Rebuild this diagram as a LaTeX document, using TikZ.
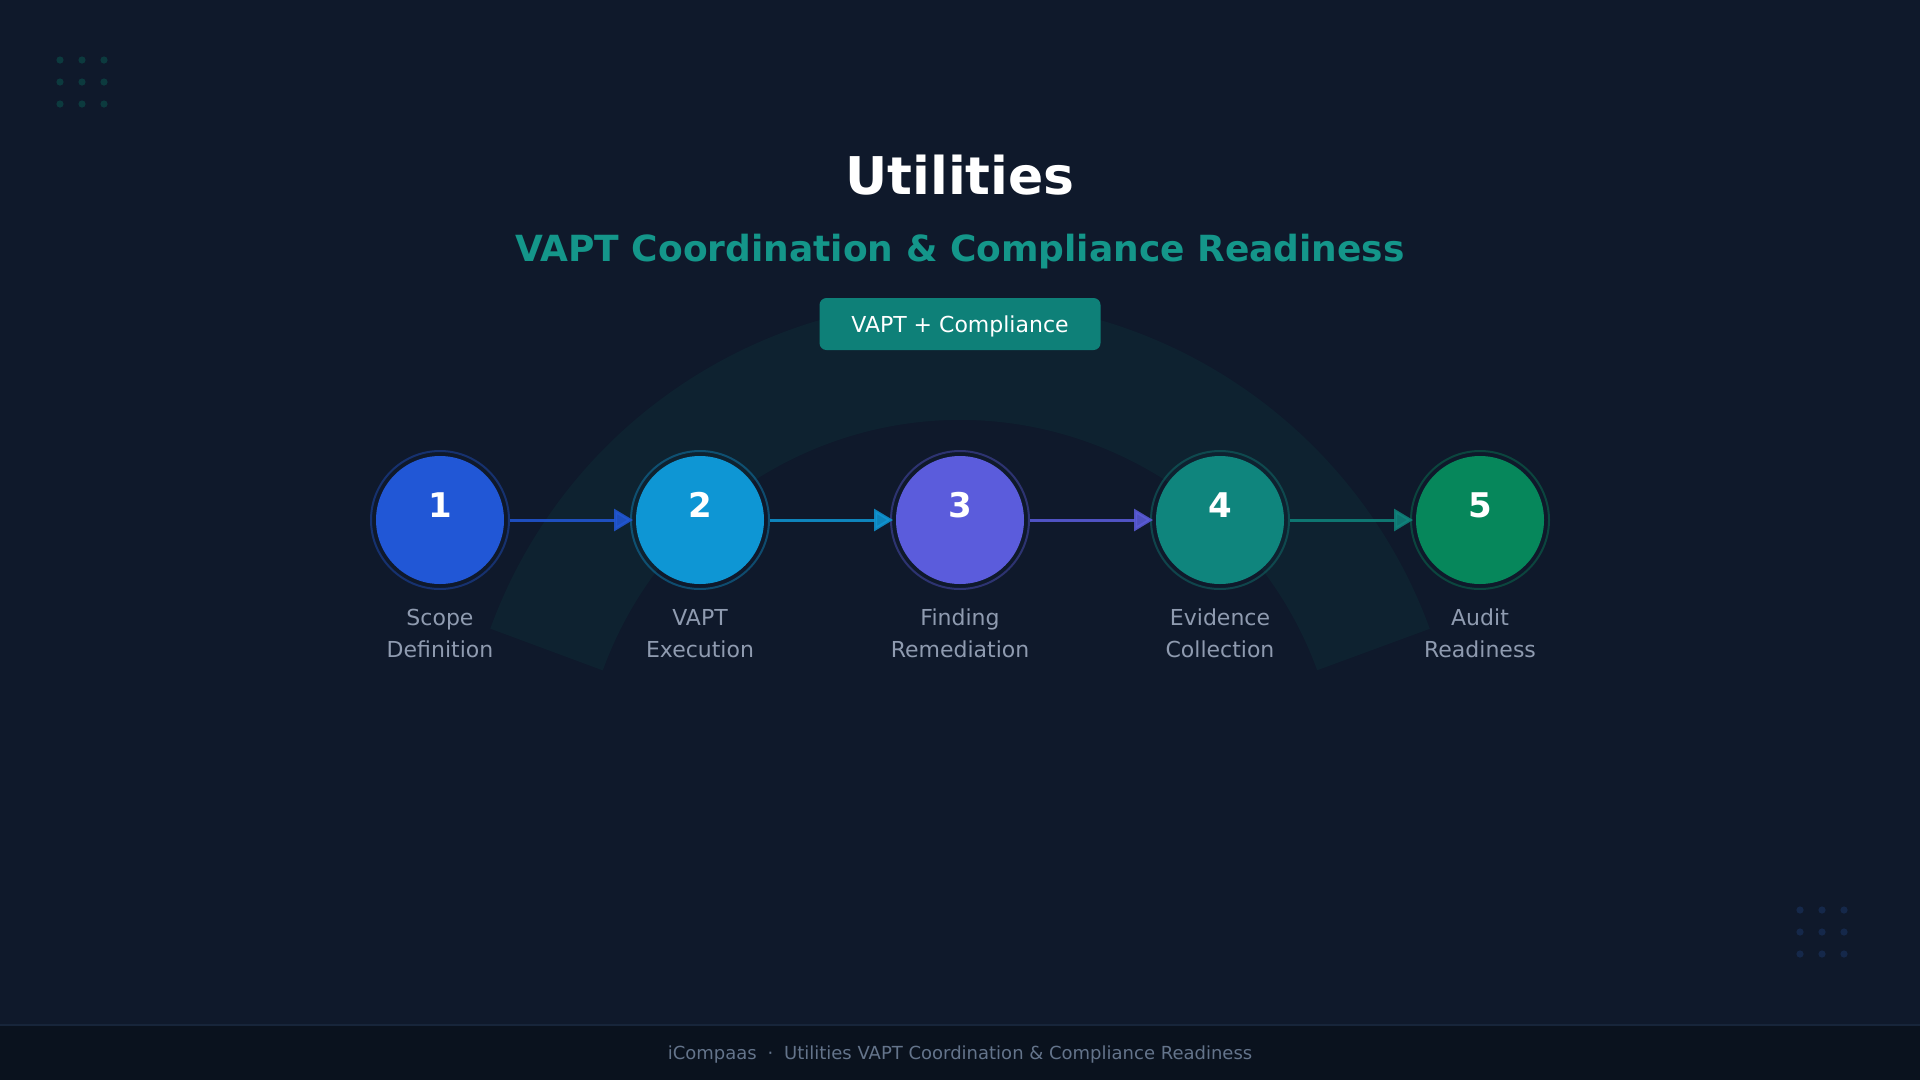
\documentclass[tikz,border=0pt]{standalone}
\usepackage{fontspec}
\setmainfont{DejaVu Sans}
\usetikzlibrary{arrows.meta}
\definecolor{bgc}{HTML}{0F192B}
\definecolor{footbg}{HTML}{0A121E}
\definecolor{footline}{HTML}{17253A}
\definecolor{arcc}{HTML}{0E2230}
\definecolor{dotA}{HTML}{0C3A3E}
\definecolor{dotB}{HTML}{15284A}
\definecolor{subc}{HTML}{14968A}
\definecolor{badgec}{HTML}{0E8078}
\definecolor{labc}{HTML}{8F9BB0}
\definecolor{footc}{HTML}{64748B}
\definecolor{cA}{HTML}{2157D6}
\definecolor{cB}{HTML}{0E96D4}
\definecolor{cC}{HTML}{5B5CDC}
\definecolor{cD}{HTML}{0F857D}
\definecolor{cE}{HTML}{06875B}
\begin{document}
\begin{tikzpicture}[x=1pt,y=-1pt,
  stepfill/.style={circle, inner sep=0pt, minimum size=128pt},
  stepring/.style={circle, inner sep=0pt, minimum size=138pt, line width=2pt, draw opacity=0.4},
  numtext/.style={anchor=base, inner sep=0pt, text=white, font=\fontsize{34}{40}\selectfont\bfseries},
  labtext/.style={anchor=base, inner sep=0pt, text=labc, font=\fontsize{22}{26}\selectfont},
  flowarrow/.style={-{Triangle[length=19pt,width=22pt]}, line width=3pt, draw opacity=0.85, shorten >=-3pt}
]
\useasboundingbox (0,0) rectangle (1920,1080);
\fill[bgc] (0,0) rectangle (1920,1080);
\fill[footbg] (0,1025) rectangle (1920,1080);
\draw[footline, line width=1.5pt] (0,1025) -- (1920,1025);
% dots
\foreach \xx in {60,82,104} \foreach \yy in {60,82,104} \fill[dotA] (\xx,\yy) circle (3.6);
\foreach \xx in {1800,1822,1844} \foreach \yy in {910,932,954} \fill[dotB] (\xx,\yy) circle (3.6);
% arc
\draw[arcc, line width=120pt] (960,800) ++(200:440) arc[start angle=200, end angle=340, radius=440];
% title
\node[anchor=base, inner sep=0pt, text=white, font=\fontsize{52}{60}\selectfont\bfseries] (title) at (960,194) {Utilities};
\node[anchor=base, inner sep=0pt, text=subc, font=\fontsize{36}{42}\selectfont\bfseries] (subtitle) at (960,261.5) {VAPT Coordination \& Compliance Readiness};
% badge
\node[fill=badgec, rounded corners=7pt, minimum width=281pt, minimum height=52pt, inner sep=0pt] (badge) at (960,324) {};
\node[anchor=base, inner sep=0pt, text=white, font=\fontsize{22}{26}\selectfont] (badgetext) at (960,332) {VAPT + Compliance};
% steps
\foreach \i/\xx/\c/\n/\la/\lb in {1/440/cA/1/Scope/Definition, 2/700/cB/2/VAPT/Execution, 3/960/cC/3/Finding/Remediation, 4/1220/cD/4/Evidence/Collection, 5/1480/cE/5/Audit/Readiness}{
  \node[stepring, draw=\c] (r\i) at (\xx,520) {};
  \node[stepfill, fill=\c] (n\i) at (\xx,520) {};
  \node[numtext] (t\i) at (\xx,517) {\n};
  \node[labtext] (la\i) at (\xx,625.7) {\la};
  \node[labtext] (lb\i) at (\xx,657.3) {\lb};
}
\draw[flowarrow, draw=cA, fill=cA, fill opacity=0.85] (r1.east) -- (r2.west);
\draw[flowarrow, draw=cB, fill=cB, fill opacity=0.85] (r2.east) -- (r3.west);
\draw[flowarrow, draw=cC, fill=cC, fill opacity=0.85] (r3.east) -- (r4.west);
\draw[flowarrow, draw=cD, fill=cD, fill opacity=0.85] (r4.east) -- (r5.west);
% footer
\node[anchor=base, inner sep=0pt, text=footc, font=\fontsize{18}{22}\selectfont] (foot) at (960,1059.5) {iCompaas\hspace{0.6em}·\hspace{0.6em}Utilities VAPT Coordination \& Compliance Readiness};
\end{tikzpicture}
\end{document}
